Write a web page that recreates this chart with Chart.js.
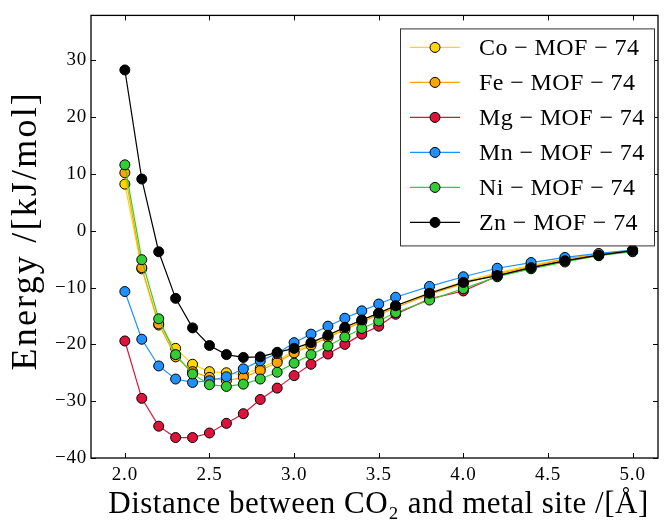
<!DOCTYPE html>
<html>
<head>
<meta charset="utf-8">
<script src="https://cdn.jsdelivr.net/npm/chart.js@4.4.1/dist/chart.umd.min.js"></script>
<style>
  html, body { margin: 0; padding: 0; background: #fff; }
</style>
</head>
<body>
<canvas id="energyChart" width="665" height="521"></canvas>
<script>
  // distance between CO2 and the metal site, in Angstrom
  const distances = [2.0, 2.1, 2.2, 2.3, 2.4, 2.5, 2.6, 2.7, 2.8, 2.9, 3.0, 3.1, 3.2, 3.3, 3.4, 3.5, 3.6, 3.8, 4.0, 4.2, 4.4, 4.6, 4.8, 5.0];

  // binding energy, kJ/mol
  const coEnergy = [8.2, -6.7, -16.6, -20.7, -23.5, -24.8, -25.0, -25.3, -24.2, -22.8, -21.2, -19.9, -18.5, -17.1, -15.7, -14.5, -13.2, -10.9, -9.0, -7.4, -6.1, -4.9, -4.1, -3.4];
  const feEnergy = [10.2, -6.5, -16.4, -22.2, -24.8, -25.8, -26.4, -25.8, -24.6, -23.2, -21.5, -20.2, -18.8, -17.4, -16.0, -14.8, -13.5, -11.2, -9.3, -7.6, -6.3, -5.0, -4.2, -3.5];
  const mgEnergy = [-19.4, -29.5, -34.4, -36.4, -36.4, -35.6, -33.9, -32.2, -29.7, -27.7, -25.5, -23.5, -21.7, -20.0, -18.2, -16.8, -14.7, -12.0, -10.6, -8.0, -6.5, -5.3, -4.3, -3.6];
  const mnEnergy = [-10.7, -19.1, -23.8, -26.1, -26.7, -26.4, -25.7, -24.3, -22.9, -21.6, -19.7, -18.2, -16.8, -15.4, -14.1, -12.9, -11.7, -9.8, -8.1, -6.6, -5.6, -4.7, -4.0, -3.4];
  const niEnergy = [11.6, -5.1, -15.5, -21.8, -25.2, -27.1, -27.4, -27.0, -26.1, -24.9, -23.3, -21.8, -20.3, -18.7, -17.2, -15.9, -14.4, -12.2, -10.2, -8.1, -6.7, -5.5, -4.4, -3.7];
  const znEnergy = [28.3, 9.1, -3.7, -11.9, -17.1, -20.2, -21.8, -22.3, -22.2, -21.4, -20.7, -19.7, -18.4, -17.0, -15.7, -14.5, -13.2, -11.0, -9.1, -7.9, -6.5, -5.3, -4.3, -3.5];

  const seriesNames = ['Co \u2212 MOF \u2212 74', 'Fe \u2212 MOF \u2212 74', 'Mg \u2212 MOF \u2212 74', 'Mn \u2212 MOF \u2212 74', 'Ni \u2212 MOF \u2212 74', 'Zn \u2212 MOF \u2212 74'];
  const seriesValues = [coEnergy, feEnergy, mgEnergy, mnEnergy, niEnergy, znEnergy];
  const seriesColors = ['#ffd700', '#ffa500', '#dc143c', '#1e90ff', '#32cd32', '#000000'];

  const xTicks = [2.0, 2.5, 3.0, 3.5, 4.0, 4.5, 5.0];
  const yTicks = [-40, -30, -20, -10, 0, 10, 20, 30];

  const xTitle = 'Distance between CO\u2082 and metal site /[\u00c5]';
  const yTitle = 'Energy /[kJ/mol]';

  const serif = "'Liberation Serif', 'DejaVu Serif', serif";

  // the reference font runs a little wider than Liberation Serif
  const spacingPlugin = {
    id: 'spacing',
    beforeDraw(chart) {
      chart.ctx.letterSpacing = '0.8px';
    }
  };

  // matplotlib style frame with inward ticks on all four sides, plus axis titles
  const framePlugin = {
    id: 'frame',
    afterDraw(chart) {
      const { ctx, chartArea: a, scales } = chart;
      ctx.save();
      ctx.strokeStyle = '#000';
      ctx.lineWidth = 1;
      ctx.beginPath();
      xTicks.forEach(v => {
        const px = Math.round(scales.x.getPixelForValue(v)) + 0.5;
        ctx.moveTo(px, a.bottom); ctx.lineTo(px, a.bottom - 5);
        ctx.moveTo(px, a.top); ctx.lineTo(px, a.top + 5);
      });
      yTicks.forEach(v => {
        const py = Math.round(scales.y.getPixelForValue(v)) + 0.5;
        ctx.moveTo(a.left, py); ctx.lineTo(a.left + 5, py);
        ctx.moveTo(a.right, py); ctx.lineTo(a.right - 5, py);
      });
      ctx.stroke();
      ctx.lineWidth = 1.3;
      ctx.strokeRect(a.left, a.top, a.right - a.left, a.bottom - a.top);

      ctx.fillStyle = '#000';
      ctx.textAlign = 'center';
      ctx.textBaseline = 'alphabetic';
      ctx.font = '31px ' + serif;
      ctx.letterSpacing = '0.5px';
      ctx.fillText(xTitle, (a.left + a.right) / 2 + 4, 513);

      ctx.font = '36px ' + serif;
      ctx.letterSpacing = '2.2px';
      ctx.translate(36, (a.top + a.bottom) / 2 - 6);
      ctx.rotate(-Math.PI / 2);
      ctx.fillText(yTitle, 0, 0);
      ctx.restore();
    }
  };

  // boxed legend in the upper right corner
  const legendPlugin = {
    id: 'legendBox',
    afterDraw(chart) {
      const { ctx, chartArea: a } = chart;
      const right = a.right - 4, top = a.top + 13;
      const w = 254, h = 217;
      const left = right - w;
      ctx.save();
      ctx.fillStyle = '#fff';
      ctx.fillRect(left, top, w, h);
      ctx.strokeStyle = '#333';
      ctx.lineWidth = 1;
      ctx.strokeRect(left + 0.5, top + 0.5, w, h);
      seriesNames.forEach((name, i) => {
        const y = top + 19 + i * 35;
        ctx.strokeStyle = seriesColors[i];
        ctx.lineWidth = 1.2;
        ctx.beginPath();
        ctx.moveTo(left + 10, y); ctx.lineTo(left + 60, y);
        ctx.stroke();
        ctx.beginPath();
        ctx.arc(left + 35, y, 5, 0, Math.PI * 2);
        ctx.fillStyle = seriesColors[i];
        ctx.fill();
        ctx.strokeStyle = '#000';
        ctx.lineWidth = 1;
        ctx.stroke();
        ctx.fillStyle = '#000';
        ctx.font = '24px ' + serif;
        ctx.letterSpacing = '0.4px';
        ctx.textBaseline = 'middle';
        ctx.textAlign = 'left';
        ctx.fillText(name, left + 79, y + 1);
      });
      ctx.restore();
    }
  };

  const datasets = seriesNames.map((name, i) => ({
    label: name,
    data: distances.map((d, j) => ({ x: d, y: seriesValues[i][j] })),
    borderColor: seriesColors[i],
    backgroundColor: seriesColors[i],
    pointBackgroundColor: seriesColors[i],
    pointBorderColor: '#000',
    pointBorderWidth: 1,
    pointRadius: 5,
    borderWidth: 1.2,
    tension: 0,
    order: seriesNames.length - i
  }));

  new Chart(document.getElementById('energyChart'), {
    type: 'line',
    data: { datasets },
    plugins: [spacingPlugin, framePlugin, legendPlugin],
    options: {
      responsive: false,
      animation: false,
      layout: { padding: { left: 0, right: 7, top: 12, bottom: 0 } },
      plugins: { legend: { display: false }, tooltip: { enabled: false } },
      scales: {
        x: {
          type: 'linear',
          min: 1.8,
          max: 5.15,
          afterBuildTicks: s => { s.ticks = xTicks.map(v => ({ value: v })); },
          afterFit: s => { s.height = 63; },
          grid: { display: false, drawTicks: false },
          border: { display: false },
          ticks: {
            autoSkip: false,
            maxRotation: 0,
            padding: 6,
            color: '#000',
            font: { family: serif, size: 19 },
            callback: v => Number(v).toFixed(1)
          }
        },
        y: {
          type: 'linear',
          min: -40,
          max: 37.9,
          afterBuildTicks: s => { s.ticks = yTicks.map(v => ({ value: v })); },
          afterFit: s => { s.width = 91; },
          grid: { display: false, drawTicks: false },
          border: { display: false },
          ticks: {
            autoSkip: false,
            padding: 4,
            color: '#000',
            font: { family: serif, size: 19 },
            callback: v => v < 0 ? '\u2212' + Math.abs(v) : String(v)
          }
        }
      }
    }
  });
</script>
</body>
</html>
